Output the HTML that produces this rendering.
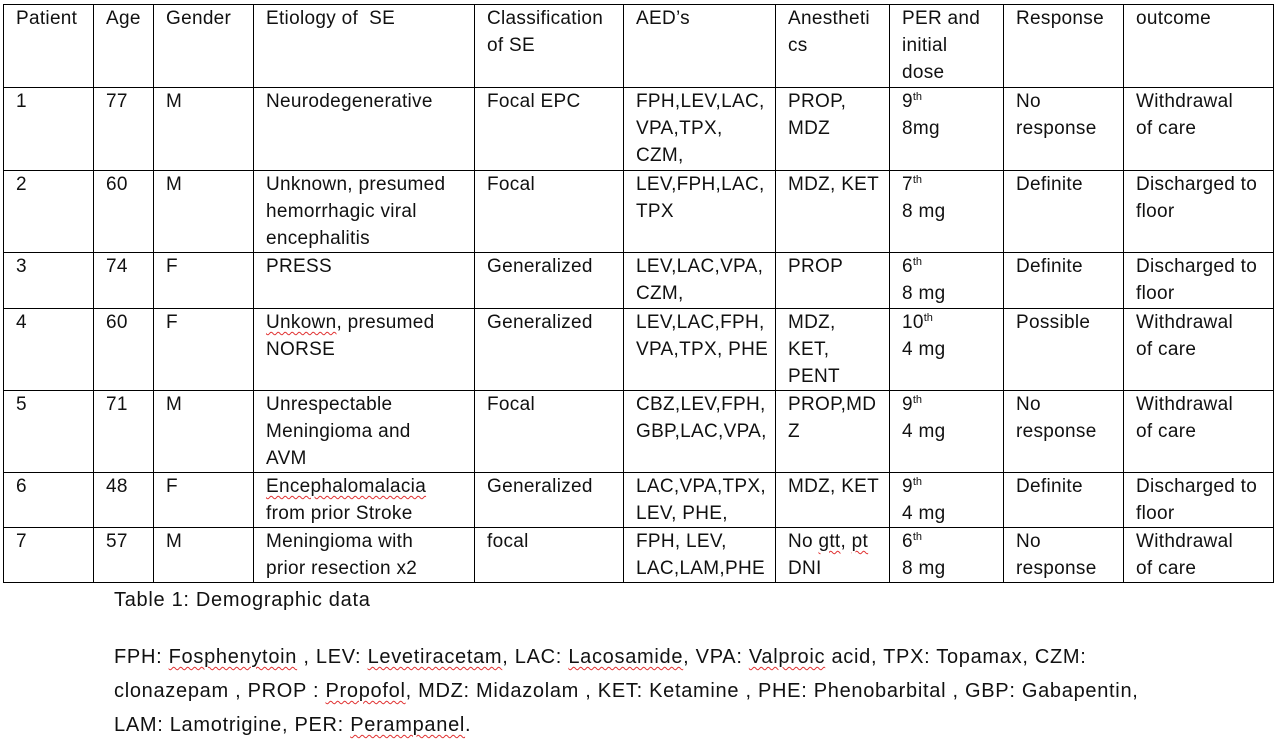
<!DOCTYPE html>
<html><head><meta charset="utf-8"><style>
body{margin:0;width:1286px;height:752px;background:#fff;position:relative;overflow:hidden;font-family:"Liberation Sans",sans-serif;color:#111;}
.v{position:absolute;top:4px;height:579px;width:1px;background:#000;}
.h{position:absolute;left:3px;width:1271px;height:1px;background:#000;}
.c{position:absolute;font-size:19px;letter-spacing:0.3px;line-height:27px;white-space:nowrap;}
sup{font-size:11px;line-height:0;vertical-align:7px;letter-spacing:0;}
.w{text-decoration:underline wavy #e03030;text-decoration-thickness:1px;text-underline-offset:3px;}
.n{position:absolute;left:114px;font-size:20px;letter-spacing:0.7px;white-space:nowrap;}
</style></head><body>
<div class="v" style="left:3px"></div><div class="v" style="left:93px"></div><div class="v" style="left:153px"></div><div class="v" style="left:253px"></div><div class="v" style="left:474px"></div><div class="v" style="left:623px"></div><div class="v" style="left:775px"></div><div class="v" style="left:889px"></div><div class="v" style="left:1003px"></div><div class="v" style="left:1123px"></div><div class="v" style="left:1273px"></div>
<div class="h" style="top:4px"></div><div class="h" style="top:87px"></div><div class="h" style="top:170px"></div><div class="h" style="top:252px"></div><div class="h" style="top:308px"></div><div class="h" style="top:390px"></div><div class="h" style="top:472px"></div><div class="h" style="top:527px"></div><div class="h" style="top:582px"></div>

<div class="c" style="left:16px;top:5px">Patient</div><div class="c" style="left:106px;top:5px">Age</div><div class="c" style="left:166px;top:5px">Gender</div><div class="c" style="left:266px;top:5px">Etiology of&nbsp; SE</div><div class="c" style="left:487px;top:5px">Classification<br>of SE</div><div class="c" style="left:636px;top:5px">AED’s</div><div class="c" style="left:788px;top:5px">Anestheti<br>cs</div><div class="c" style="left:902px;top:5px">PER and<br>initial<br>dose</div><div class="c" style="left:1016px;top:5px">Response</div><div class="c" style="left:1136px;top:5px">outcome</div>

<div class="c" style="left:16px;top:88px">1</div><div class="c" style="left:106px;top:88px">77</div><div class="c" style="left:166px;top:88px">M</div><div class="c" style="left:266px;top:88px">Neurodegenerative</div><div class="c" style="left:487px;top:88px">Focal EPC</div><div class="c" style="left:636px;top:88px">FPH,LEV,LAC,<br>VPA,TPX,<br>CZM,</div><div class="c" style="left:788px;top:88px">PROP,<br>MDZ</div><div class="c" style="left:902px;top:88px">9<sup>th</sup><br>8mg</div><div class="c" style="left:1016px;top:88px">No<br>response</div><div class="c" style="left:1136px;top:88px">Withdrawal<br>of care</div>

<div class="c" style="left:16px;top:171px">2</div><div class="c" style="left:106px;top:171px">60</div><div class="c" style="left:166px;top:171px">M</div><div class="c" style="left:266px;top:171px">Unknown, presumed<br>hemorrhagic viral<br>encephalitis</div><div class="c" style="left:487px;top:171px">Focal</div><div class="c" style="left:636px;top:171px">LEV,FPH,LAC,<br>TPX</div><div class="c" style="left:788px;top:171px">MDZ, KET</div><div class="c" style="left:902px;top:171px">7<sup>th</sup><br>8 mg</div><div class="c" style="left:1016px;top:171px">Definite</div><div class="c" style="left:1136px;top:171px">Discharged to<br>floor</div>

<div class="c" style="left:16px;top:253px">3</div><div class="c" style="left:106px;top:253px">74</div><div class="c" style="left:166px;top:253px">F</div><div class="c" style="left:266px;top:253px">PRESS</div><div class="c" style="left:487px;top:253px">Generalized</div><div class="c" style="left:636px;top:253px">LEV,LAC,VPA,<br>CZM,</div><div class="c" style="left:788px;top:253px">PROP</div><div class="c" style="left:902px;top:253px">6<sup>th</sup><br>8 mg</div><div class="c" style="left:1016px;top:253px">Definite</div><div class="c" style="left:1136px;top:253px">Discharged to<br>floor</div>

<div class="c" style="left:16px;top:309px">4</div><div class="c" style="left:106px;top:309px">60</div><div class="c" style="left:166px;top:309px">F</div><div class="c" style="left:266px;top:309px"><span class="w">Unkown</span>, presumed<br>NORSE</div><div class="c" style="left:487px;top:309px">Generalized</div><div class="c" style="left:636px;top:309px">LEV,LAC,FPH,<br>VPA,TPX, PHE</div><div class="c" style="left:788px;top:309px">MDZ,<br>KET,<br>PENT</div><div class="c" style="left:902px;top:309px">10<sup>th</sup><br>4 mg</div><div class="c" style="left:1016px;top:309px">Possible</div><div class="c" style="left:1136px;top:309px">Withdrawal<br>of care</div>

<div class="c" style="left:16px;top:391px">5</div><div class="c" style="left:106px;top:391px">71</div><div class="c" style="left:166px;top:391px">M</div><div class="c" style="left:266px;top:391px">Unrespectable<br>Meningioma and<br>AVM</div><div class="c" style="left:487px;top:391px">Focal</div><div class="c" style="left:636px;top:391px">CBZ,LEV,FPH,<br>GBP,LAC,VPA,</div><div class="c" style="left:788px;top:391px">PROP,MD<br>Z</div><div class="c" style="left:902px;top:391px">9<sup>th</sup><br>4 mg</div><div class="c" style="left:1016px;top:391px">No<br>response</div><div class="c" style="left:1136px;top:391px">Withdrawal<br>of care</div>

<div class="c" style="left:16px;top:473px">6</div><div class="c" style="left:106px;top:473px">48</div><div class="c" style="left:166px;top:473px">F</div><div class="c" style="left:266px;top:473px"><span class="w">Encephalomalacia</span><br>from prior Stroke</div><div class="c" style="left:487px;top:473px">Generalized</div><div class="c" style="left:636px;top:473px">LAC,VPA,TPX,<br>LEV, PHE,</div><div class="c" style="left:788px;top:473px">MDZ, KET</div><div class="c" style="left:902px;top:473px">9<sup>th</sup><br>4 mg</div><div class="c" style="left:1016px;top:473px">Definite</div><div class="c" style="left:1136px;top:473px">Discharged to<br>floor</div>

<div class="c" style="left:16px;top:528px">7</div><div class="c" style="left:106px;top:528px">57</div><div class="c" style="left:166px;top:528px">M</div><div class="c" style="left:266px;top:528px">Meningioma with<br>prior resection x2</div><div class="c" style="left:487px;top:528px">focal</div><div class="c" style="left:636px;top:528px">FPH, LEV,<br>LAC,LAM,PHE</div><div class="c" style="left:788px;top:528px">No <span class="w">gtt</span>, <span class="w">pt</span><br>DNI</div><div class="c" style="left:902px;top:528px">6<sup>th</sup><br>8 mg</div><div class="c" style="left:1016px;top:528px">No<br>response</div><div class="c" style="left:1136px;top:528px">Withdrawal<br>of care</div>

<div class="n" style="top:589px">Table 1: Demographic data</div>
<div class="n" style="top:646px">FPH: <span class="w">Fosphenytoin</span> , LEV: <span class="w">Levetiracetam</span>, LAC: <span class="w">Lacosamide</span>, VPA: <span class="w">Valproic</span> acid, TPX: Topamax, CZM:</div>
<div class="n" style="top:680px">clonazepam , PROP : <span class="w">Propofol</span>, MDZ: Midazolam , KET: Ketamine , PHE: Phenobarbital , GBP: Gabapentin,</div>
<div class="n" style="top:714px">LAM: Lamotrigine, PER: <span class="w">Perampanel</span>.</div>
</body></html>
